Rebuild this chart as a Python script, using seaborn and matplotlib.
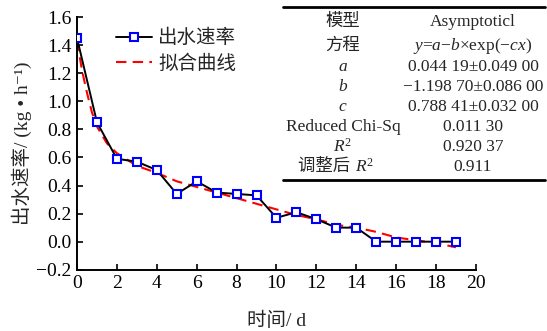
import numpy as np
import pandas as pd
import matplotlib
matplotlib.use("Agg")
import matplotlib.pyplot as plt
import seaborn as sns
from matplotlib.lines import Line2D

# measured outflow rate
days = [0, 1, 2, 3, 4, 5, 6, 7, 8, 9, 10, 11, 12, 13, 14, 15, 16, 17, 18, 19]
rate = [1.45, 0.85, 0.59, 0.57, 0.51, 0.34, 0.43, 0.35, 0.34, 0.33,
        0.17, 0.21, 0.16, 0.10, 0.10, 0.0, 0.0, 0.0, 0.0, 0.0]

# fitted curve
fit_x = [0, 0.25, 0.5, 0.75, 1, 1.5, 2, 3, 4, 5, 6, 7, 8, 9, 10, 11, 12, 13, 14, 15, 16, 17, 18, 19]
fit_y = [1.43, 1.22, 1.06, 0.92, 0.82, 0.70, 0.63, 0.54, 0.49, 0.43, 0.39, 0.35, 0.31, 0.27,
         0.23, 0.19, 0.16, 0.12, 0.10, 0.07, 0.03, 0.01, -0.01, -0.04]

table_left = ["模型", "方程", "$a$", "$b$", "$c$", "Reduced Chi-Sq", "$R^2$", "调整后"]
table_right = ["Asymptoticl", "$y$=$a$−$b$×exp(−$cx$)", "0.044 19±0.049 00",
               "−1.198 70±0.086 00", "0.788 41±0.032 00", "0.011 30", "0.920 37", "0.911"]

sns.set_style("ticks")
plt.rcParams['font.family'] = ['Liberation Serif', 'Noto Sans CJK SC', 'DejaVu Sans']
plt.rcParams['mathtext.fontset'] = 'custom'
plt.rcParams['mathtext.rm'] = 'Liberation Serif'
plt.rcParams['mathtext.it'] = 'Liberation Serif:italic'
plt.rcParams['axes.unicode_minus'] = True

fig = plt.figure(figsize=(5.47, 3.31), dpi=100)
ax = fig.add_axes([0.1408, 0.185, 0.7292, 0.7636])

df = pd.DataFrame({"day": days, "rate": rate})
fit = pd.DataFrame({"x": fit_x, "y": fit_y})

sns.lineplot(data=df, x="day", y="rate", ax=ax, color="black", linewidth=1.4,
             marker="s", markersize=6.3, markerfacecolor="white",
             markeredgecolor="#0000ff", markeredgewidth=1.5, label="出水速率", zorder=3)
sns.lineplot(data=fit, x="x", y="y", ax=ax, color="#ff0000", linewidth=1.5,
             linestyle=(0, (5, 3)), label="拟合曲线", zorder=2)

ax.set_xlim(0, 20)
ax.set_ylim(-0.2, 1.6)
ax.set_xticks(np.arange(0, 21, 2))
yt = np.arange(-0.2, 1.61, 0.2)
ax.set_yticks(yt)
ax.set_yticklabels([f"{v:.1f}".replace("-", "−") if abs(v) > 1e-9 else "0.0" for v in yt])
ax.tick_params(direction="in", length=4, width=1.2, labelsize=14, colors="black", pad=4)
for s in ["top", "right"]:
    ax.spines[s].set_visible(False)
for s in ["left", "bottom"]:
    ax.spines[s].set_linewidth(1.4)
    ax.spines[s].set_color("black")

ax.set_xlabel("时间/ d", fontsize=14, labelpad=14)
ax.set_ylabel("出水速率/ (kg • h⁻¹)", fontsize=14, labelpad=3)

leg = ax.legend(loc="upper left", bbox_to_anchor=(0.098, 0.952), frameon=False,
                fontsize=14, handlelength=1.85, handletextpad=0.3, borderaxespad=0,
                borderpad=0, labelspacing=0.35)

# parameter table
fig.add_artist(Line2D([283 / 547, 545 / 547], [1 - 7 / 331, 1 - 7 / 331], color="black", linewidth=2))
fig.add_artist(Line2D([283 / 547, 545 / 547], [1 - 180 / 331, 1 - 180 / 331], color="black", linewidth=2))
rows_y = [22, 46, 67, 87, 107, 127, 147, 167]
for yy, lt, rt in zip(rows_y, table_left, table_right):
    if lt == "调整后":
        fig.text(355 / 547, 1 - yy / 331, lt + " ", ha="right", va="center", fontsize=12.5)
        fig.text(355 / 547, 1 - yy / 331, "$R^2$", ha="left", va="center", fontsize=12.5)
    else:
        fig.text(343 / 547, 1 - yy / 331, lt, ha="center", va="center", fontsize=12.5)
    fig.text(473 / 547, 1 - yy / 331, rt, ha="center", va="center", fontsize=12.5)

fig.savefig("out.png", dpi=100)
